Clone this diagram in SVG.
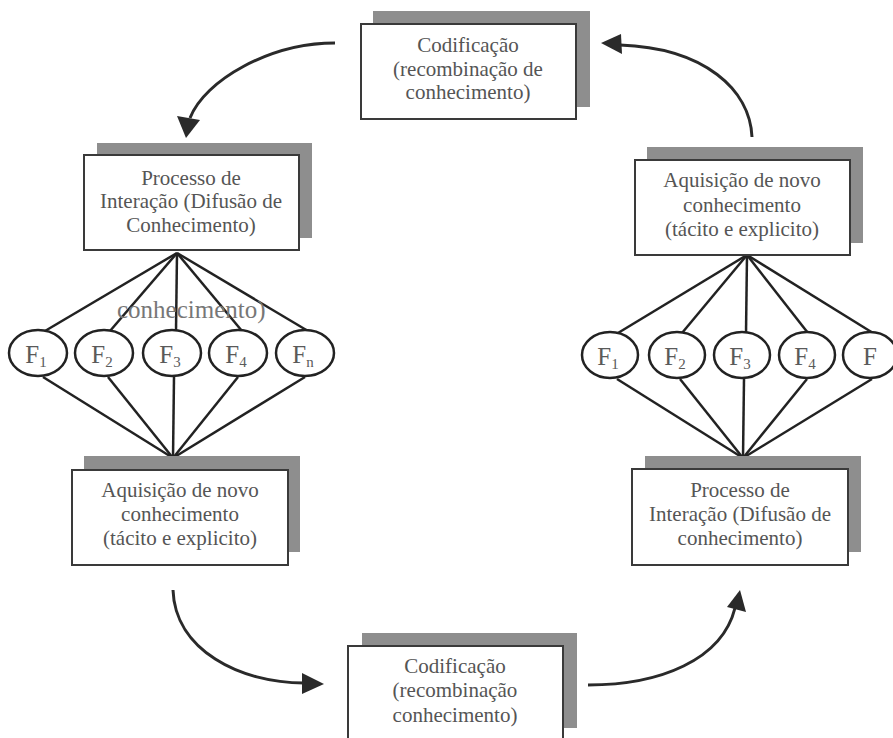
<svg xmlns="http://www.w3.org/2000/svg" width="893" height="738" viewBox="0 0 893 738">
<style>
.sh{fill:#8e8e8e;stroke:none}
.bx{fill:#fff;stroke:#3a3a3a;stroke-width:2}
.t{font-family:"Liberation Serif","Times New Roman",serif;font-size:21px;fill:#555;text-anchor:middle}
.f{font-family:"Liberation Serif","Times New Roman",serif;font-size:25px;fill:#5a5a5a;text-anchor:middle}
.fl{stroke:#222;stroke-width:2.5;fill:none}
.el{fill:#fff;stroke:#222;stroke-width:2.5}
.ar{stroke:#2a2a2a;stroke-width:3;fill:none}
.ah{fill:#2a2a2a}
</style>
<rect width="893" height="738" fill="#fff"/>
<g id="connectors">
<path class="ar" d="M335,43 C270,43 205,80 190,118"/>
<polygon class="ah" points="186,138 177,116 200,120"/>
<path class="ar" d="M752,137 C750,90 705,48 620,45"/>
<polygon class="ah" points="601,43 621,34 622,54"/>
<path class="ar" d="M173,590 C175,650 240,683 304,683"/>
<polygon class="ah" points="324,684 302,673 302,694"/>
<path class="ar" d="M588,685 C660,685 722,660 735,608"/>
<polygon class="ah" points="740,590 727,607 746,612"/>
<g id="fan-left-lines">
<line class="fl" x1="177" y1="253" x2="45" y2="331"/>
<line class="fl" x1="177" y1="253" x2="110" y2="331"/>
<line class="fl" x1="177" y1="253" x2="176" y2="331"/>
<line class="fl" x1="177" y1="253" x2="242" y2="331"/>
<line class="fl" x1="177" y1="253" x2="308" y2="331"/>
<line class="fl" x1="173" y1="458" x2="43" y2="377"/>
<line class="fl" x1="173" y1="458" x2="108" y2="377"/>
<line class="fl" x1="173" y1="458" x2="174" y2="377"/>
<line class="fl" x1="173" y1="458" x2="238" y2="377"/>
<line class="fl" x1="173" y1="458" x2="305" y2="377"/>
</g>
<g id="fan-right-lines">
<line class="fl" x1="747" y1="255" x2="618" y2="333"/>
<line class="fl" x1="747" y1="255" x2="682" y2="333"/>
<line class="fl" x1="747" y1="255" x2="746" y2="333"/>
<line class="fl" x1="747" y1="255" x2="808" y2="333"/>
<line class="fl" x1="747" y1="255" x2="873" y2="333"/>
<line class="fl" x1="743" y1="458" x2="617" y2="379"/>
<line class="fl" x1="743" y1="458" x2="680" y2="379"/>
<line class="fl" x1="743" y1="458" x2="744" y2="379"/>
<line class="fl" x1="743" y1="458" x2="807" y2="379"/>
<line class="fl" x1="743" y1="458" x2="872" y2="379"/>
</g>
</g>
<g id="codificacao-top">
<rect class="sh" x="373" y="11" width="217" height="96"/>
<rect class="bx" x="361" y="24" width="215" height="95"/>
<text class="t" x="468" y="52">Codificação</text>
<text class="t" x="468" y="76">(recombinação de</text>
<text class="t" x="468" y="99">conhecimento)</text>
</g>
<g id="processo-left">
<rect class="sh" x="97" y="143" width="215" height="95"/>
<rect class="bx" x="84" y="155" width="215" height="95"/>
<text class="t" x="191" y="185">Processo de</text>
<text class="t" x="191" y="208">Interação (Difusão de</text>
<text class="t" x="191" y="232">Conhecimento)</text>
</g>
<text class="f" x="117" y="318" style="text-anchor:start;fill:#777">conhecimento)</text>
<g id="f-left">
<g id="fl1"><ellipse class="el" cx="38" cy="353" rx="29" ry="23"/><text class="f" x="36" y="363">F<tspan font-size="15" dy="4">1</tspan></text></g>
<g id="fl2"><ellipse class="el" cx="104" cy="353" rx="29" ry="23"/><text class="f" x="102" y="363">F<tspan font-size="15" dy="4">2</tspan></text></g>
<g id="fl3"><ellipse class="el" cx="172" cy="353" rx="29" ry="23"/><text class="f" x="170" y="363">F<tspan font-size="15" dy="4">3</tspan></text></g>
<g id="fl4"><ellipse class="el" cx="238" cy="353" rx="29" ry="23"/><text class="f" x="236" y="363">F<tspan font-size="15" dy="4">4</tspan></text></g>
<g id="fln"><ellipse class="el" cx="305" cy="353" rx="29" ry="23"/><text class="f" x="303" y="363">F<tspan font-size="15" dy="4">n</tspan></text></g>
</g>
<g id="aquisicao-left">
<rect class="sh" x="84" y="456" width="216" height="96"/>
<rect class="bx" x="72" y="470" width="216" height="95"/>
<text class="t" x="180" y="497">Aquisição de novo</text>
<text class="t" x="180" y="521">conhecimento</text>
<text class="t" x="180" y="545">(tácito e explicito)</text>
</g>
<g id="aquisicao-right">
<rect class="sh" x="647" y="147" width="216" height="96"/>
<rect class="bx" x="635" y="160" width="215" height="95"/>
<text class="t" x="742" y="187">Aquisição de novo</text>
<text class="t" x="742" y="212">conhecimento</text>
<text class="t" x="742" y="236">(tácito e explicito)</text>
</g>
<g id="f-right">
<g id="fr1"><ellipse class="el" cx="610" cy="355" rx="28" ry="23"/><text class="f" x="608" y="365">F<tspan font-size="15" dy="4">1</tspan></text></g>
<g id="fr2"><ellipse class="el" cx="677" cy="355" rx="28" ry="23"/><text class="f" x="675" y="365">F<tspan font-size="15" dy="4">2</tspan></text></g>
<g id="fr3"><ellipse class="el" cx="742" cy="355" rx="28" ry="23"/><text class="f" x="740" y="365">F<tspan font-size="15" dy="4">3</tspan></text></g>
<g id="fr4"><ellipse class="el" cx="807" cy="355" rx="28" ry="23"/><text class="f" x="805" y="365">F<tspan font-size="15" dy="4">4</tspan></text></g>
<g id="fr5"><ellipse class="el" cx="870" cy="355" rx="27" ry="23"/><text class="f" x="870" y="365">F</text></g>
</g>
<g id="processo-right">
<rect class="sh" x="645" y="456" width="216" height="96"/>
<rect class="bx" x="632" y="469" width="216" height="96"/>
<text class="t" x="740" y="497">Processo de</text>
<text class="t" x="740" y="521">Interação (Difusão de</text>
<text class="t" x="740" y="545">conhecimento)</text>
</g>
<g id="codificacao-bottom">
<rect class="sh" x="362" y="633" width="215" height="95"/>
<rect class="bx" x="348" y="646" width="215" height="100"/>
<text class="t" x="455" y="673">Codificação</text>
<text class="t" x="455" y="697">(recombinação</text>
<text class="t" x="455" y="722">conhecimento)</text>
</g>
</svg>
